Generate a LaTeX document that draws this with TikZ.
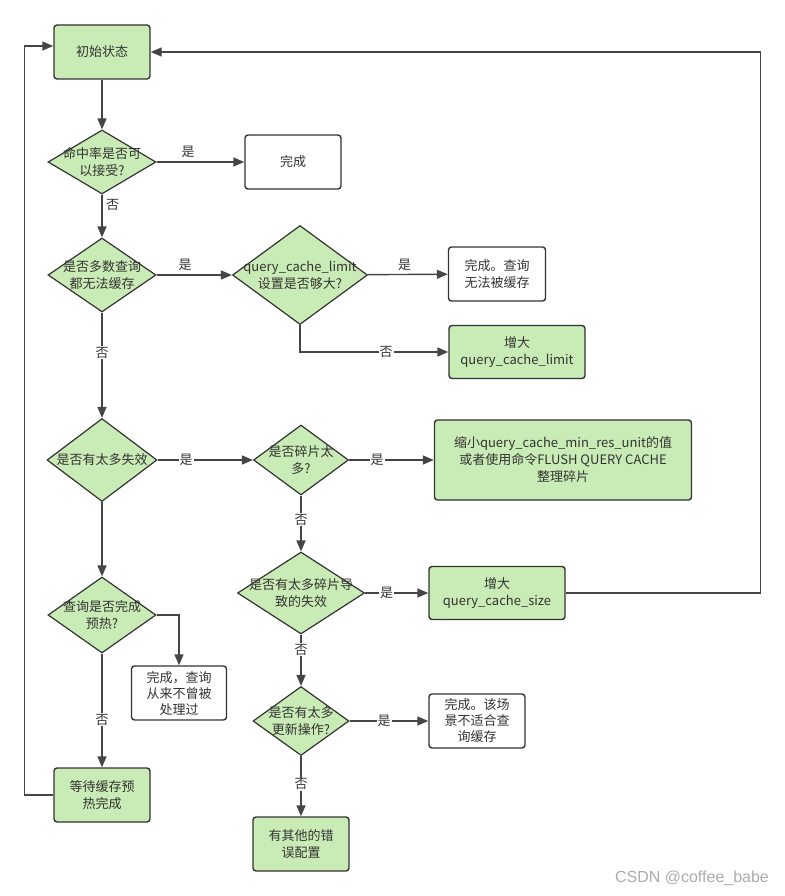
\documentclass[tikz,border=0pt]{standalone}
\usepackage{fontspec}
\setmainfont{Noto Sans CJK SC}
\newfontfamily\wmfont{Liberation Sans}
\usetikzlibrary{shapes.geometric, arrows.meta}

\definecolor{boxgreen}{HTML}{C9EBB5}
\definecolor{linec}{HTML}{333333}
\definecolor{edgec}{HTML}{454545}

\begin{document}
\begin{tikzpicture}[x=1pt, y=-1pt, >={Triangle[length=11pt, width=9pt]}, every node/.style={font=\fontsize{13}{17}\selectfont, text=linec}]

        % Styles for nodes
        \tikzstyle{process} = [draw=linec, fill=boxgreen, line width=1.4pt, rounded corners=3pt, minimum width=96pt, minimum height=54pt, align=center, inner sep=2pt]
        \tikzstyle{terminal} = [process, fill=white]
        \tikzstyle{decision} = [diamond, draw=linec, fill=boxgreen, line width=1.2pt, inner sep=0pt]
        \tikzstyle{dtext} = [align=center, inner sep=0pt]
        \tikzstyle{flow} = [->, draw=edgec, line width=1.4pt]
        \tikzstyle{answer} = [fill=white, inner sep=1pt]

        \useasboundingbox (0,0) rectangle (784,896);

        % Nodes
        \node[process] (init) at (102,52) {初始状态};
        \node[decision, minimum width=108pt, minimum height=64pt, label={[dtext]center:命中率是否可\\以接受?}] (hit) at (102,162) {};
        \node[terminal] (done1) at (293,162) {完成};
        \node[decision, minimum width=108pt, minimum height=74pt, label={[dtext]center:是否多数查询\\都无法缓存}] (nocache) at (102,275) {};
        \node[decision, minimum width=135pt, minimum height=99pt, label={[dtext]center:query\_cache\_limit\\设置是否够大?}] (limit) at (300,275) {};
        \node[terminal, minimum width=97pt] (done2) at (497,274) {完成。查询\\无法被缓存};
        \node[process, minimum width=136pt, minimum height=53pt] (inclimit) at (517,352) {增大\\query\_cache\_limit};
        \node[decision, minimum width=110pt, minimum height=83pt, label={[dtext]center:是否有太多失效}] (inval) at (102,460) {};
        \node[decision, minimum width=95pt, minimum height=70pt, label={[dtext]center:是否碎片太\\多?}] (frag) at (301,460) {};
        \node[process, minimum width=257pt, minimum height=80pt] (shrink) at (563,460) {缩小query\_cache\_min\_res\_unit的值\\或者使用命令FLUSH QUERY CACHE\\整理碎片};
        \node[decision, minimum width=127pt, minimum height=82pt, label={[dtext]center:是否有太多碎片导\\致的失效}] (fraginv) at (301,593) {};
        \node[process, minimum width=136pt, minimum height=53pt] (incsize) at (497,593) {增大\\query\_cache\_size};
        \node[decision, minimum width=96pt, minimum height=69pt, label={[dtext]center:是否有太多\\更新操作?}] (update) at (301,721) {};
        \node[terminal, font=\fontsize{13}{16}\selectfont] (done3) at (477,721) {完成。该场\\景不适合查\\询缓存};
        \node[process] (other) at (301,844) {有其他的错\\误配置};
        \node[decision, minimum width=108pt, minimum height=76pt, label={[dtext]center:查询是否完成\\预热?}] (warm) at (102,615) {};
        \node[terminal, minimum width=95pt, font=\fontsize{13}{16}\selectfont] (done4) at (179,693) {完成，查询\\从来不曾被\\处理过};
        \node[process] (wait) at (102,795) {等待缓存预\\热完成};
        \node[text=gray!65, font=\wmfont\fontsize{16}{18}\selectfont] (wm) at (692,878) {CSDN @coffee\_babe};

        % Arrows
        \draw[flow] (init) -- (hit);
        \draw[flow] (hit) -- node[pos=0.36, above] {是} (done1);
        \draw[flow] (hit) -- node[pos=0.25, right] {否} (nocache);
        \draw[flow] (nocache) -- node[pos=0.38, above] {是} (limit);
        \draw[flow] (limit) -- node[pos=0.46, above] {是} (done2);
        \draw[flow] (limit.south) |- node[pos=0.79, answer] {否} (inclimit.west);
        \draw[flow] (nocache) -- node[pos=0.38, answer] {否} (inval);
        \draw[flow] (inval) -- node[pos=0.3, answer] {是} (frag);
        \draw[flow] (frag) -- node[pos=0.33, answer] {是} (shrink);
        \draw[flow] (frag) -- node[pos=0.43, answer] {否} (fraginv);
        \draw[flow] (fraginv) -- node[pos=0.34, answer] {是} (incsize);
        \draw[flow] (incsize.east) -- ++(195,0) |- (init.east);
        \draw[flow] (fraginv) -- node[pos=0.29, answer] {否} (update);
        \draw[flow] (update) -- node[pos=0.44, answer] {是} (done3);
        \draw[flow] (update) -- node[pos=0.47, answer] {否} (other);
        \draw[flow] (inval) -- (warm);
        \draw[flow] (warm.east) -| (done4.north);
        \draw[flow] (warm) -- node[pos=0.58, answer] {否} (wait);
        \draw[flow] (wait.west) -- ++(-29,0) |- ([yshift=6pt]init.west);

\end{tikzpicture}
\end{document}
